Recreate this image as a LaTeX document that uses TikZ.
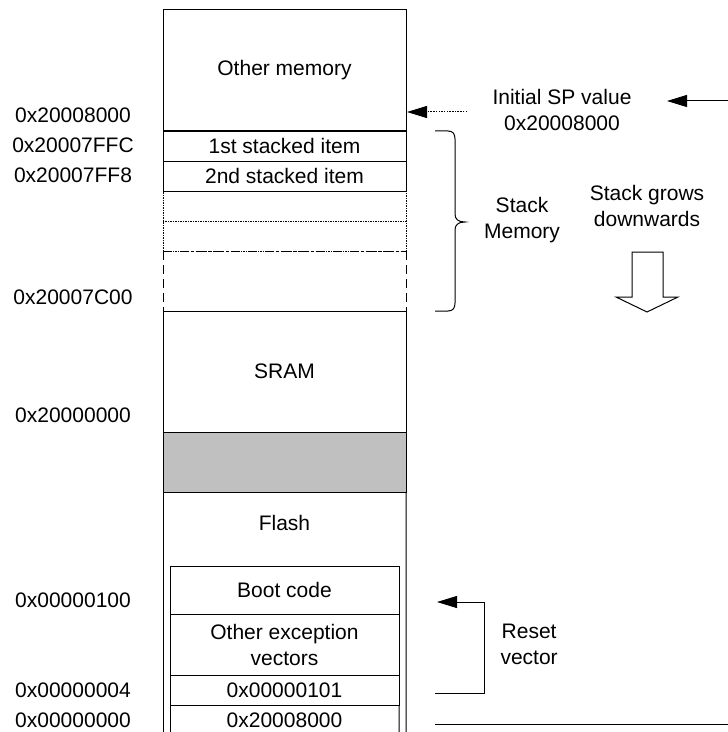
\documentclass[tikz,border=0pt]{standalone}
\usepackage{fontspec}
\setmainfont{Liberation Sans}
\usetikzlibrary{arrows.meta}
\definecolor{graybox}{HTML}{C0C0C0}
\begin{document}
\begin{tikzpicture}[x=1bp,y=-1bp,
  every node/.style={font=\fontsize{21bp}{26bp}\selectfont},
  lw/.style={line width=1bp},
  region/.style={lw, draw, minimum width=243bp, inner sep=0pt, outer sep=0pt, anchor=north west},
  innerbox/.style={lw, draw, minimum width=229bp, inner sep=0pt, outer sep=0pt, anchor=north west, align=center},
  dotbox/.style={dash pattern=on 1.2bp off 1.3bp},
  dashside/.style={lw, dash pattern=on 9bp off 5bp},
  dashdottop/.style={lw, dash pattern=on 9bp off 3bp on 2bp off 3bp},
  arr/.style={lw, -{Triangle[length=20bp,width=12bp]}},
  lbl/.style={anchor=center}
]
\useasboundingbox (0,0) rectangle (728,732);

% stack area (dotted and dashed parts first)
\node[region, dotbox, minimum height=30bp] (d1) at (163,191) {};
\node[region, dotbox, minimum height=30bp] (d2) at (163,221) {};
\node[region, draw=none, minimum height=60bp] (free) at (163,251) {};
\draw[dashdottop] (free.north west) -- (free.north east);
\draw[dashside] (free.north west) -- (free.south west);
\draw[dashside] (free.north east) -- (free.south east);

% solid regions
\node[region, minimum height=121bp] (other) at (163,10) {Other memory};
\node[region, minimum height=30bp] (s1) at (163,131) {1st stacked item};
\node[region, minimum height=30bp] (s2) at (163,161) {2nd stacked item};
\node[region, minimum height=121bp] (sram) at (163,311) {SRAM};
\node[region, fill=graybox, minimum height=60bp] (gap) at (163,432) {};
\coordinate (colbl) at (163,732);
\coordinate (colbr) at (406,732);
\draw[lw] (gap.south west) -- (colbl);
\draw[lw] (gap.south east) -- (colbr);
\node (flash) at (284.5,523) {Flash};

% flash contents
\node[innerbox, minimum height=48bp] (boot) at (170,566) {Boot code};
\node[innerbox, minimum height=61bp] (exc) at (170,614) {Other exception\\vectors};
\node[innerbox, minimum height=30bp] (v1) at (170,675) {0x00000101};
\node[innerbox, draw=none, minimum height=30bp] (v0) at (170,705) {0x20008000};
\coordinate (v0bl) at (170,732);
\coordinate (v0br) at (399,732);
\draw[lw] (v0.north west) -- (v0bl);
\draw[lw] (v0.north east) -- (v0br);

% address labels
\node[lbl] (a1) at (73,115) {0x20008000};
\node[lbl] (a2) at (73,145) {0x20007FFC};
\node[lbl] (a3) at (73,175) {0x20007FF8};
\node[lbl] (a4) at (73,297) {0x20007C00};
\node[lbl] (a5) at (73,415) {0x20000000};
\node[lbl] (a6) at (73,600) {0x00000100};
\node[lbl] (a7) at (73,690) {0x00000004};
\node[lbl] (a8) at (73,720) {0x00000000};

% initial SP
\node[align=center] (sp) at (562,110) {Initial SP value\\0x20008000};
\coordinate (spdotstart) at (467,112);
\coordinate (sptip) at (407,112);
\draw[arr, dash pattern=on 1.5bp off 1.2bp] (spdotstart) -- (sptip);
\coordinate (spin) at (728,101);
\coordinate (spto) at (667,101);
\draw[arr] (spin) -- (spto);

% brace
\draw[lw] (435,131) -- (448,131) .. controls (453,131) and (455,134) .. (455,139)
  -- (455,214) .. controls (455,219) and (458,222) .. (465,222)
  .. controls (458,222) and (455,225) .. (455,230)
  -- (455,303) .. controls (455,308) and (453,311) .. (448,311) -- (435,311);
\node[align=center] (stackmem) at (522,220) {Stack\\Memory};

% stack grows
\node[align=center] (grows) at (647,206) {Stack grows\\downwards};
\draw[lw] (632,252) -- (663,252) -- (663,297) -- (678,297) -- (647,312)
  -- (616,297) -- (632,297) -- cycle;

% reset vector
\coordinate (rstart) at (435,693);
\coordinate (rcorner) at (484,693);
\coordinate (rtip) at (437,602);
\draw[arr] (rstart) -- (rcorner) |- (rtip);
\node[align=center, anchor=west] (reset) at (497,644) {Reset\\vector};

% bottom line
\coordinate (bl1) at (435,724);
\coordinate (bl2) at (728,724);
\draw[lw] (bl1) -- (bl2);
\end{tikzpicture}
\end{document}
